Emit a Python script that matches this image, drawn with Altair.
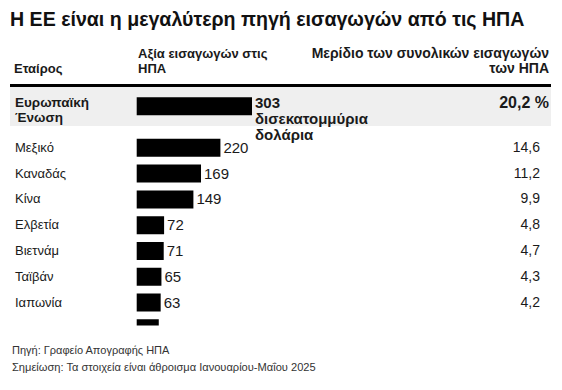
import altair as alt
import pandas as pd

# ---- data ----
partners = ["Ευρωπαϊκή Ένωση", "Μεξικό", "Καναδάς", "Κίνα", "Ελβετία",
            "Βιετνάμ", "Ταϊβάν", "Ιαπωνία", "Νότια Κορέα"]
values = [303, 220, 169, 149, 72, 71, 65, 63, 58]
shares = [20.2, 14.6, 11.2, 9.9, 4.8, 4.7, 4.3, 4.2, 3.9]

title_text = "Η ΕΕ είναι η μεγαλύτερη πηγή εισαγωγών από τις ΗΠΑ"
col1 = "Εταίρος"
col2 = "Αξία εισαγωγών στις\nΗΠΑ"
col3 = "Μερίδιο των συνολικών εισαγωγών\nτων ΗΠΑ"
unit_text = "δισεκατομμύρια\nδολάρια"
source_text = "Πηγή: Γραφείο Απογραφής ΗΠΑ"
note_text = "Σημείωση: Τα στοιχεία είναι άθροισμα Ιανουαρίου-Μαΐου 2025"

FONT = "Liberation Sans"
TXT = "#1a1a1a"


def gr(v):
    return f"{v:.1f}".replace(".", ",")


rows = []
for i, (p, v, s) in enumerate(zip(partners, values, shares)):
    pos = 0 if i == 0 else i + 0.61
    rows.append({
        "partner": p.replace(" ", "\n") if i == 0 else p,
        "value": v,
        "vlabel": f"{v}\n{unit_text}" if i == 0 else str(v),
        "share": gr(s) + " %" if i == 0 else gr(s),
        "pos": pos,
        "first": i == 0,
        "shown": i < len(partners) - 1,
    })
df = pd.DataFrame(rows)
df_first = df[df["first"]]
df_rest = df[(~df["first"]) & df["shown"]]

W, H = 546, 317.5
xs = alt.Scale(domain=[0, values[0]], range=[128.7, 244])
ys = alt.Scale(domain=[0, 9], range=[93.3, 93.3 + 9 * 26.9])
X = alt.X("value:Q", scale=xs, axis=None)
Y = alt.Y("pos:Q", scale=ys, axis=None)

one = pd.DataFrame({"a": [0]})
base1 = alt.Chart(one)

band = base1.mark_rect(color="#efefef").encode(
    x=alt.value(2), x2=alt.value(543), y=alt.value(79), y2=alt.value(118))
rule = base1.mark_rule(color="#000", strokeWidth=3).encode(
    x=alt.value(2), x2=alt.value(543), y=alt.value(77.5))

title = base1.mark_text(text=title_text, font=FONT, fontSize=19.6, fontWeight="bold",
                        align="left", baseline="alphabetic", color="#111").encode(
    x=alt.value(2), y=alt.value(18))
h1 = base1.mark_text(text=col1, font=FONT, fontSize=13, fontWeight="bold",
                     align="left", baseline="alphabetic", color=TXT).encode(
    x=alt.value(6), y=alt.value(65))
h2 = base1.mark_text(text=col2, lineBreak="\n", lineHeight=15, font=FONT, fontSize=13,
                     fontWeight="bold", align="left", baseline="alphabetic", color=TXT).encode(
    x=alt.value(130), y=alt.value(50))
h3 = base1.mark_text(text=col3, lineBreak="\n", lineHeight=15, font=FONT, fontSize=14,
                     fontWeight="bold", align="right", baseline="alphabetic", color=TXT).encode(
    x=alt.value(541), y=alt.value(50))
src = base1.mark_text(text=source_text, font=FONT, fontSize=11, align="left",
                      baseline="alphabetic", color="#333").encode(
    x=alt.value(4), y=alt.value(346))
note = base1.mark_text(text=note_text, font=FONT, fontSize=11.1, align="left",
                       baseline="alphabetic", color="#333").encode(
    x=alt.value(4), y=alt.value(363))

bars = alt.Chart(df).mark_bar(orient="horizontal", size=18, color="#000", clip=True).encode(
    x=X, y=Y)

lab_first = alt.Chart(df_first).mark_text(
    lineBreak="\n", lineHeight=15, font=FONT, fontSize=13.5, fontWeight="bold",
    align="left", baseline="alphabetic", color=TXT, dy=0.7).encode(
    x=alt.value(7), y=Y, text="partner:N")
lab_rest = alt.Chart(df_rest).mark_text(
    font=FONT, fontSize=13, align="left", baseline="middle", color=TXT).encode(
    x=alt.value(7), y=Y, text="partner:N")

val_first = alt.Chart(df_first).mark_text(
    lineBreak="\n", lineHeight=16, font=FONT, fontSize=15, fontWeight="bold",
    align="left", baseline="alphabetic", color=TXT, dx=3, dy=1.4).encode(
    x=X, y=Y, text="vlabel:N")
val_rest = alt.Chart(df_rest).mark_text(
    font=FONT, fontSize=15, align="left", baseline="middle", color=TXT, dx=3).encode(
    x=X, y=Y, text="vlabel:N")

sh_first = alt.Chart(df_first).mark_text(
    font=FONT, fontSize=16, fontWeight="bold", align="right", baseline="alphabetic",
    color=TXT, dy=1.4).encode(x=alt.value(541), y=Y, text="share:N")
sh_rest = alt.Chart(df_rest).mark_text(
    font=FONT, fontSize=14, align="right", baseline="middle", color=TXT).encode(
    x=alt.value(532), y=Y, text="share:N")

chart = alt.layer(
    band, rule, bars, lab_first, lab_rest, val_first, val_rest, sh_first, sh_rest,
    title, h1, h2, h3, src, note
).properties(
    width=W, height=H,
    autosize=alt.AutoSizeParams(type="none"),
    padding={"left": 0, "top": 0, "right": 0, "bottom": 56.5},
).configure_view(stroke=None)

chart.save("out.html", embed_options={"renderer": "svg", "actions": False})
